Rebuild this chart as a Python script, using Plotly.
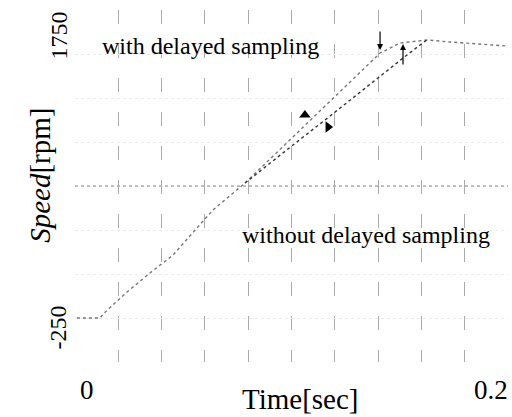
import plotly.graph_objects as go

# Time [s] and speed [rpm]
t_common = [0.0009, 0.0115, 0.0139, 0.0240, 0.0346, 0.0453, 0.0637, 0.0785]
v_common = [-182, -182, -142, -6, 123, 245, 550, 733]

t_with = [0.0901, 0.1039, 0.1178, 0.1316, 0.1409, 0.1501, 0.1626, 0.1732, 0.1811, 0.1995]
v_with = [896, 1092, 1289, 1486, 1614, 1682, 1703, 1689, 1682, 1662]

t_without = [0.0901, 0.1039, 0.1178, 0.1316, 0.1409, 0.1515, 0.1594, 0.1626]
v_without = [869, 1028, 1187, 1350, 1458, 1580, 1669, 1703]

# gap markers (triangles)
tri_t = [0.1062, 0.1169]
tri_v = [1194, 1113]
tri_sym = ["triangle-up", "triangle-right"]

x_ticks = [0, 0.2]
x_tick_text = ["0", "0.2"]
y_ticks = [1750, -250]
y_tick_text = ["1750", "-250"]

FONT = "'Liberation Serif', 'Times New Roman', serif"
fig = go.Figure()

fig.add_trace(go.Scatter(x=t_common + t_with, y=v_common + v_with, mode="lines",
                         line=dict(color="#777", width=1.4, dash="dot"), showlegend=False))
fig.add_trace(go.Scatter(x=t_common[-1:] + t_without, y=v_common[-1:] + v_without, mode="lines",
                         line=dict(color="#333", width=1.4, dash="dot"), showlegend=False))
fig.add_trace(go.Scatter(x=tri_t, y=tri_v, mode="markers",
                         marker=dict(symbol=tri_sym, size=10, color="black"), showlegend=False))

yr = [-480, 1906]
fig.update_layout(
    width=512, height=417,
    margin=dict(l=75, r=4, t=10, b=55),
    paper_bgcolor="white", plot_bgcolor="white",
    xaxis=dict(range=[0, 0.2], dtick=0.02, tick0=0, showticklabels=False,
               showgrid=True, gridcolor="#aaa", griddash="14px,20px", gridwidth=1,
               zeroline=False, showline=False, ticks=""),
    yaxis=dict(range=yr, dtick=(yr[1] - yr[0]) / 8, tick0=yr[0], showticklabels=False,
               showgrid=True, gridcolor="#ececec", griddash="dot", gridwidth=1,
               zeroline=False, showline=False, ticks=""),
    font=dict(family=FONT, color="black"),
)

# middle dotted horizontal line
fig.add_shape(type="line", xref="paper", x0=0, x1=1, yref="y",
              y0=(yr[0] + yr[1]) / 2, y1=(yr[0] + yr[1]) / 2,
              line=dict(color="#888", width=1, dash="dot"))

# tick labels
for xv, txt in zip(x_ticks, x_tick_text):
    fig.add_annotation(x=xv, y=-0.08, xref="x", yref="paper", text=txt, showarrow=False,
                       xanchor="left" if xv == 0 else "right", yanchor="middle",
                       font=dict(size=27, family=FONT), xshift=3 if xv == 0 else 2)
for yv, txt in zip(y_ticks, y_tick_text):
    fig.add_annotation(x=-0.038, y=yv, xref="paper", yref="y", text=txt, showarrow=False,
                       textangle=-90, xanchor="center", yanchor="middle",
                       font=dict(size=24, family=FONT), yshift=-3 if yv > 0 else 0)

# axis titles
fig.add_annotation(x=-0.08, y=0.53, xref="paper", yref="paper", text="<i>Speed</i>[rpm]",
                   showarrow=False, textangle=-90, xanchor="center", yanchor="middle",
                   font=dict(size=29, family=FONT))
fig.add_annotation(x=0.52, y=-0.105, xref="paper", yref="paper", text="Time[sec]",
                   showarrow=False, xanchor="center", yanchor="middle",
                   font=dict(size=29, family=FONT))

# curve labels
fig.add_annotation(x=0.0115, y=1665, xref="x", yref="y", text="with delayed sampling",
                   showarrow=False, xanchor="left", yanchor="middle", font=dict(size=24, family=FONT))
fig.add_annotation(x=0.0762, y=380, xref="x", yref="y", text="without delayed sampling",
                   showarrow=False, xanchor="left", yanchor="middle", font=dict(size=24, family=FONT))

# small arrows
fig.add_annotation(x=0.1409, y=1635, ax=0, ay=-20, xref="x", yref="y", text="",
                   showarrow=True, arrowhead=2, arrowsize=1, arrowwidth=1.2, arrowcolor="black")
fig.add_annotation(x=0.1515, y=1675, ax=0, ay=22, xref="x", yref="y", text="",
                   showarrow=True, arrowhead=2, arrowsize=1, arrowwidth=1.2, arrowcolor="black")

fig.write_html("out.html")
